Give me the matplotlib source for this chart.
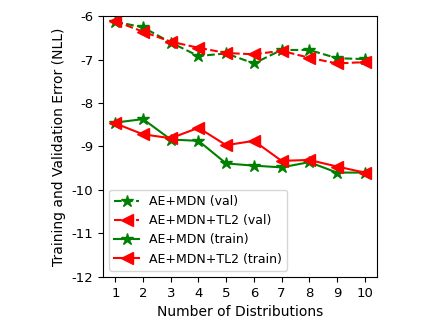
import numpy as np
import matplotlib
matplotlib.use('Agg')
import matplotlib.pyplot as plt

plt.rcParams['axes.unicode_minus'] = False

n_dist = [1, 2, 3, 4, 5, 6, 7, 8, 9, 10]
ae_mdn_val = [-6.13, -6.26, -6.61, -6.92, -6.86, -7.09, -6.78, -6.78, -6.97, -6.99]
ae_tl2_val = [-6.12, -6.36, -6.59, -6.73, -6.85, -6.88, -6.80, -6.96, -7.09, -7.06]
ae_mdn_train = [-8.45, -8.37, -8.84, -8.87, -9.39, -9.44, -9.48, -9.36, -9.60, -9.60]
ae_tl2_train = [-8.47, -8.72, -8.81, -8.57, -8.97, -8.87, -9.33, -9.31, -9.46, -9.60]

fig = plt.figure(figsize=(4.36, 3.27), dpi=100)
ax = fig.add_axes([0.236, 0.153, 0.629, 0.798])

ax.plot(n_dist, ae_mdn_val, 'g--', marker='*', markersize=9, lw=1.5, label='AE+MDN (val)')
ax.plot(n_dist, ae_tl2_val, 'r--', marker='<', markersize=8, lw=1.5, label='AE+MDN+TL2 (val)')
ax.plot(n_dist, ae_mdn_train, 'g-', marker='*', markersize=9, lw=1.5, label='AE+MDN (train)')
ax.plot(n_dist, ae_tl2_train, 'r-', marker='<', markersize=8, lw=1.5, label='AE+MDN+TL2 (train)')

ax.set_ylim(-12, -6)
ax.set_xticks(n_dist)
ax.set_yticks(np.arange(-12, -5, 1))
ax.tick_params(labelsize=9.5)
ax.set_xlabel('Number of Distributions', fontsize=10)
ax.set_ylabel('Training and Validation Error (NLL)', fontsize=10)
ax.legend(loc='lower left', fontsize=9)

fig.savefig('out.png', dpi=100)
